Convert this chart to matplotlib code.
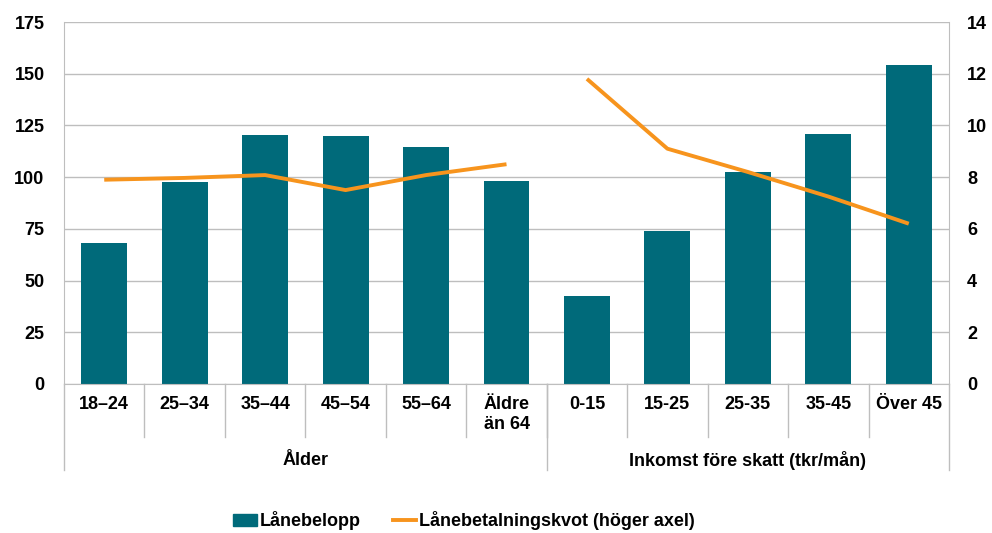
import numpy as np
import matplotlib.pyplot as plt
from matplotlib.transforms import blended_transform_factory
from matplotlib.patches import Patch
from matplotlib.lines import Line2D

plt.rcParams['font.family'] = ['Liberation Sans', 'DejaVu Sans']
plt.rcParams['font.weight'] = 'bold'

# data
categories = ['18–24', '25–34', '35–44', '45–54', '55–64', 'Äldre\nän 64',
              '0-15', '15-25', '25-35', '35-45', 'Över 45']
groups = ['Ålder', 'Inkomst före skatt (tkr/mån)']
group_sizes = [6, 5]
lanebelopp = [68.2, 97.6, 120.3, 119.9, 114.5, 98.1,
              42.5, 74.0, 102.5, 120.8, 154.2]
kvot_alder = [7.9, 7.97, 8.08, 7.5, 8.08, 8.5]
kvot_inkomst = [11.8, 9.1, 8.2, 7.25, 6.2]

teal = '#006A7A'
orange = '#F7941D'
grey = '#BEBEBE'
fs = 13

fig = plt.figure(figsize=(9.92, 5.33), dpi=100)
ax = fig.add_axes([64/992, 1-384/533, (949-64)/992, (384-22)/533])
ax2 = ax.twinx()

x = np.arange(len(categories))
ax.bar(x, lanebelopp, width=0.57, color=teal, zorder=2)

xa = x[:group_sizes[0]]
xi = x[group_sizes[0]:]
ax2.plot(xa, kvot_alder, color=orange, lw=2.8, solid_capstyle='butt')
ax2.plot(xi, kvot_inkomst, color=orange, lw=2.8, solid_capstyle='butt')

ax.set_xlim(-0.5, len(categories) - 0.5)
ax.set_ylim(0, 175)
ax.set_yticks(np.arange(0, 176, 25))
ax2.set_ylim(0, 14)
ax2.set_yticks(np.arange(0, 15, 2))
ax.yaxis.grid(True, color=grey, lw=1, zorder=0)
ax.set_axisbelow(True)

for a in (ax, ax2):
    for s in a.spines.values():
        s.set_visible(False)
    a.tick_params(length=0, labelsize=fs)
for side in ('left', 'bottom', 'right'):
    ax.spines[side].set_visible(True)
    ax.spines[side].set_color(grey)
ax.tick_params(axis='y', pad=14)
ax2.tick_params(axis='y', pad=13)

# category labels, drawn as text for multi-level axis
ax.set_xticks([])
tr = blended_transform_factory(ax.transData, ax.transAxes)
for xi_, lab in zip(x, categories):
    ax.text(xi_, -0.033, lab, transform=tr, ha='center', va='top',
            fontsize=fs, fontweight='bold', linespacing=1.2)

# separators
for b in np.arange(0.5, len(categories) - 1, 1.0):
    ax.plot([b, b], [0, -0.146], transform=tr, color=grey, lw=1, clip_on=False)
edges = np.concatenate([[-0.5], np.cumsum(group_sizes) - 0.5])
for b in edges:
    ax.plot([b, b], [0, -0.238], transform=tr, color=grey, lw=1, clip_on=False)
for g, lo, hi in zip(groups, edges[:-1], edges[1:]):
    ax.text((lo + hi) / 2, -0.21, g, transform=tr, ha='center', va='center',
            fontsize=fs, fontweight='bold')

handles = [Patch(color=teal), Line2D([], [], color=orange, lw=2.8)]
fig.legend(handles, ['Lånebelopp', 'Lånebetalningskvot (höger axel)'],
           loc='center', bbox_to_anchor=(464/992, 1-521/533), ncol=2,
           frameon=False, fontsize=fs, handlelength=1.3, handleheight=0.6,
           columnspacing=1.8, handletextpad=0.15)

fig.savefig('out.png', dpi=100)
